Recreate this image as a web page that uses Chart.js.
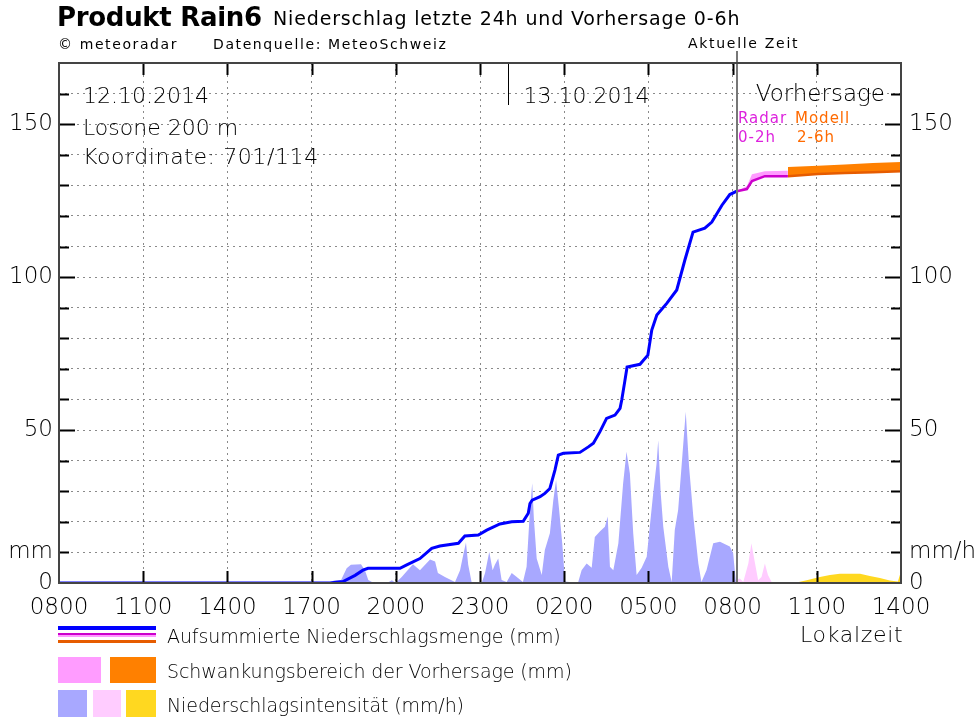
<!DOCTYPE html>
<html>
<head>
<meta charset="utf-8">
<script src="https://cdn.jsdelivr.net/npm/chart.js@4.4.1/dist/chart.umd.min.js"></script>
<style>
  body { margin: 0; background: #fff; font-family: "DejaVu Sans", sans-serif; }
  #wrap { position: relative; width: 976px; height: 718px; overflow: hidden; }
  #chart { position: absolute; left: 0; top: 0; }
  .t { position: absolute; white-space: nowrap; color: #000; }
  .sw { position: absolute; }
</style>
</head>
<body>
<div id="wrap">
  <canvas id="chart" width="976" height="718"></canvas>
  <div class="t" style="left:57px;top:2px;font-size:26px;font-weight:bold;letter-spacing:-0.3px">Produkt Rain6</div>
  <div class="t" style="left:273px;top:7px;font-size:19px;letter-spacing:0.85px">Niederschlag letzte 24h und Vorhersage 0-6h</div>
  <div class="t" style="left:58px;top:36px;font-size:14px;letter-spacing:1.6px">© meteoradar</div>
  <div class="t" style="left:213px;top:36px;font-size:14px;letter-spacing:1.6px">Datenquelle: MeteoSchweiz</div>
  <div class="t" style="left:688px;top:35px;font-size:14px;letter-spacing:1.7px">Aktuelle Zeit</div>
  <div class="t" style="left:800px;top:622px;font-size:22px;font-weight:200;letter-spacing:0.7px">Lokalzeit</div>

  <!-- legende -->
  <div class="sw" style="left:58px;top:626px;width:98px;height:4px;background:#0000ff"></div>
  <div class="sw" style="left:58px;top:633px;width:98px;height:2px;background:#cc00cc"></div>
  <div class="sw" style="left:58px;top:635px;width:98px;height:2px;background:#ff99ff"></div>
  <div class="sw" style="left:58px;top:640px;width:98px;height:3px;background:#e65c00"></div>
  <div class="t" style="left:167px;top:625px;font-size:19px;font-weight:200;letter-spacing:-0.1px">Aufsummierte Niederschlagsmenge (mm)</div>

  <div class="sw" style="left:58px;top:657px;width:43px;height:26px;background:#ff9cff"></div>
  <div class="sw" style="left:110px;top:657px;width:46px;height:26px;background:#ff8000"></div>
  <div class="t" style="left:167px;top:660px;font-size:19px;font-weight:200;letter-spacing:-0.1px">Schwankungsbereich der Vorhersage (mm)</div>

  <div class="sw" style="left:58px;top:690px;width:29px;height:27px;background:#a8a8ff"></div>
  <div class="sw" style="left:93px;top:690px;width:28px;height:27px;background:#ffccff"></div>
  <div class="sw" style="left:126px;top:690px;width:30px;height:27px;background:#ffd820"></div>
  <div class="t" style="left:167px;top:694px;font-size:19px;font-weight:200;letter-spacing:-0.1px">Niederschlagsintensität (mm/h)</div>
</div>

<script>
// Stunden ab 12.10.2014 08:00 (0 .. 30)
const xTickLabels = ['0800', '1100', '1400', '1700', '2000', '2300', '0200', '0500', '0800', '1100', '1400'];
const jetzt = 24.15;       // Aktuelle Zeit
const mitternacht = 16;    // 13.10.2014 00:00

// aufsummierte Niederschlagsmenge (mm), gemessen
const cumTime = [0, 9.65, 10.12, 10.55, 10.83, 11.01, 12.15, 12.39, 12.86, 13.28,
  13.57, 14.23, 14.46, 14.94, 15.24, 15.71, 16.13, 16.54, 16.72, 16.78,
  16.86, 17.14, 17.31, 17.49, 17.67, 17.79, 17.97, 18.56, 18.86, 19.04,
  19.27, 19.51, 19.81, 19.99, 20.05, 20.16, 20.24, 20.70, 20.98, 21.12,
  21.30, 21.66, 22.01, 22.30, 22.59, 23.01, 23.26, 23.62, 23.90, 24.15];
const cumValue = [0, 0, 0.5, 2.5, 4.2, 4.8, 4.8, 5.9, 8, 11.3,
  12.1, 13, 15.4, 15.7, 17.3, 19.3, 20, 20.2, 22.8, 26,
  27.1, 28.2, 29.3, 30.9, 36.9, 41.8, 42.4, 42.7, 44.5, 45.7,
  49.4, 53.8, 54.9, 57.1, 59.8, 66, 70.6, 71.5, 74.5, 82.7,
  87.6, 91.5, 95.8, 105.6, 114.7, 116, 118, 123.5, 127, 128.1];

// Vorhersage Radar 0-2h
const radarTime = [24.15, 24.51, 24.69, 25.15, 25.97];
const radarValue = [128.1, 128.8, 131.4, 133.0, 133.0];
const radarHigh = [128.1, 129.8, 133.6, 134.6, 134.8];

// Vorhersage Modell 2-6h
const modelTime = [25.97, 27.04, 28.0, 29.0, 30.0];
const modelValue = [133.0, 133.7, 134.0, 134.3, 134.6];
const modelHigh = [136.0, 136.4, 136.8, 137.3, 137.6];

// Niederschlagsintensität (mm/h)
const intObsTime = [9.6, 9.8, 10.05, 10.25, 10.40, 10.76, 10.90, 11.02, 11.15, 11.75,
  11.86, 11.95, 12.03, 12.21, 12.61, 12.86, 13.22, 13.40, 13.50, 13.75,
  14.11, 14.29, 14.40, 14.50, 14.58, 14.70, 15.06, 15.18, 15.33, 15.45,
  15.53, 15.65, 15.77, 15.95, 16.13, 16.31, 16.53, 16.66, 16.78, 16.86,
  16.92, 17.02, 17.20, 17.31, 17.49, 17.61, 17.71, 17.82, 17.93, 18.03,
  18.49, 18.62, 18.80, 18.98, 19.09, 19.27, 19.45, 19.55, 19.63, 19.75,
  19.93, 20.10, 20.22, 20.34, 20.46, 20.58, 20.76, 20.94, 21.17, 21.29,
  21.35, 21.44, 21.53, 21.71, 21.83, 21.94, 22.06, 22.18, 22.33, 22.45,
  22.60, 22.78, 22.89, 23.07, 23.31, 23.55, 23.90, 24.02, 24.12];
const intObsValue = [0, 0.8, 1, 4.8, 6, 6.1, 4.2, 1, 0.3, 0.3,
  0.9, 0.3, 0.3, 2, 6.1, 4.2, 7.7, 7, 3.3, 2,
  0.3, 4.2, 9.1, 13.2, 6, 0.3, 0, 3.3, 10.2, 4.2,
  6, 8, 1, 0.3, 3.3, 2, 0.3, 5.3, 23.9, 32.6,
  21, 8, 2.6, 10.8, 16.3, 27, 33.7, 23.9, 13, 0.5,
  0, 4.2, 6.4, 5, 15, 16.8, 18.4, 21.7, 5.3, 4.2,
  13, 32.6, 42.9, 35.8, 16.2, 2.6, 5, 8.6, 29.3, 39,
  46.7, 29.3, 18.4, 5.3, 0.3, 17.3, 23.9, 38, 56, 38,
  21.7, 6.4, 0.3, 4.2, 13, 13.5, 11.9, 9.7, 0];
const intRadarTime = [24.08, 24.26, 24.38, 24.56, 24.67, 24.80, 24.91, 25.03, 25.15, 25.26, 25.39, 25.51];
const intRadarValue = [0.9, 1.5, 0.3, 6.4, 13, 6.4, 0.9, 2, 6.4, 2.6, 0.3, 0];
const intModelTime = [26.28, 26.64, 27.11, 27.47, 27.82, 28.54, 28.89, 29.25, 29.60, 29.89, 29.96, 30];
const intModelValue = [0.2, 0.9, 2, 2.6, 3, 3, 2.3, 1.6, 0.8, 0.5, 2.6, 2.6];

function pts(t, v) {
  return t.map((x, i) => ({x: x, y: v[i]}));
}

const FONT = '"DejaVu Sans", sans-serif';
const tickFont = {family: FONT, size: 23, weight: '200'};

// rahmen, innere ticks, linien und beschriftung im diagramm
const rahmen = {
  id: 'rahmen',
  afterDatasetsDraw(chart) {
    const ctx = chart.ctx;
    const a = chart.chartArea;
    const xs = chart.scales.x, ys = chart.scales.y;
    ctx.save();
    // ticks innen
    ctx.strokeStyle = '#000';
    ctx.lineWidth = 2;
    for (let h = 3; h < 30; h += 3) {
      const px = Math.round(xs.getPixelForValue(h)) + 0.5;
      ctx.beginPath();
      ctx.moveTo(px, a.bottom); ctx.lineTo(px, a.bottom - 12);
      ctx.moveTo(px, a.top); ctx.lineTo(px, a.top + 12);
      ctx.stroke();
    }
    for (let v = 10; v < 170; v += 10) {
      const py = Math.round(ys.getPixelForValue(v)) + 0.5;
      const len = v % 50 === 0 ? 16 : 10;
      ctx.beginPath();
      ctx.moveTo(a.left, py); ctx.lineTo(a.left + len, py);
      ctx.moveTo(a.right, py); ctx.lineTo(a.right - len, py);
      ctx.stroke();
    }
    // mitternacht
    ctx.lineWidth = 1;
    const mx = Math.round(xs.getPixelForValue(mitternacht)) + 0.5;
    ctx.beginPath();
    ctx.moveTo(mx, a.top); ctx.lineTo(mx, a.top + 42);
    ctx.stroke();
    // aktuelle zeit
    const jx = Math.round(xs.getPixelForValue(jetzt));
    ctx.strokeStyle = '#777';
    ctx.lineWidth = 2;
    ctx.beginPath();
    ctx.moveTo(jx, a.top - 12); ctx.lineTo(jx, a.bottom);
    ctx.stroke();
    // rahmen
    ctx.strokeStyle = '#444';
    ctx.lineWidth = 2;
    ctx.strokeRect(a.left, a.top, a.right - a.left, a.bottom - a.top);

    // texte
    ctx.fillStyle = '#000';
    ctx.textBaseline = 'middle';
    ctx.font = '200 22px ' + FONT;
    ctx.textAlign = 'left';
    ctx.fillText('12.10.2014', a.left + 24, 97);
    ctx.fillText('Losone 200 m', a.left + 24, 129);
    ctx.letterSpacing = '0.6px';
    ctx.fillText('Koordinate: 701/114', a.left + 24, 158);
    ctx.letterSpacing = '0px';
    ctx.fillText('13.10.2014', mx + 15, 97);
    ctx.textAlign = 'right';
    ctx.font = '200 23px ' + FONT;
    ctx.fillText('Vorhersage', a.right - 16, 95);
    ctx.textAlign = 'left';
    ctx.font = '15px ' + FONT;
    ctx.letterSpacing = '1px';
    ctx.fillStyle = '#dd22dd';
    ctx.fillText('Radar', jx + 1, 119);
    ctx.fillText('0-2h', jx + 1, 138);
    ctx.fillStyle = '#ff6a00';
    ctx.fillText('Modell', jx + 58, 119);
    ctx.fillText('2-6h', jx + 60, 138);
    ctx.restore();
  }
};

const gridDash = {dash: [2, 4], display: false};

new Chart(document.getElementById('chart'), {
  type: 'line',
  data: {
    datasets: [
      {data: pts(cumTime, cumValue), borderColor: '#0000ff', borderWidth: 3, order: 1},
      {data: pts(radarTime, radarValue), borderColor: '#cc00cc', borderWidth: 2.5, order: 2},
      {data: pts(modelTime, modelValue), borderColor: '#e65c00', borderWidth: 2.5, order: 3},
      {data: pts(radarTime, radarHigh), borderWidth: 0, backgroundColor: '#ff9cff', fill: '+1', order: 4},
      {data: pts(radarTime, radarValue), borderWidth: 0, order: 5},
      {data: pts(modelTime, modelHigh), borderWidth: 0, backgroundColor: '#ff8000', fill: '+1', order: 6},
      {data: pts(modelTime, modelValue), borderWidth: 0, order: 7},
      {data: pts(intObsTime, intObsValue), borderWidth: 0, backgroundColor: '#a8a8ff', fill: 'origin', order: 8},
      {data: pts(intRadarTime, intRadarValue), borderWidth: 0, backgroundColor: '#ffccff', fill: 'origin', order: 9},
      {data: pts(intModelTime, intModelValue), borderWidth: 0, backgroundColor: '#ffd820', fill: 'origin', order: 10}
    ]
  },
  options: {
    responsive: false,
    animation: false,
    events: [],
    elements: {point: {radius: 0}, line: {tension: 0}},
    layout: {padding: {left: 0, right: 0, top: 63, bottom: 95}},
    plugins: {legend: {display: false}, tooltip: {enabled: false}},
    scales: {
      x: {
        type: 'linear', min: 0, max: 30,
        afterFit: s => { s.height = 40; },
        ticks: {stepSize: 3, autoSkip: false, maxRotation: 0, padding: 11, color: '#000',
          font: tickFont,
          callback: v => xTickLabels[v / 3]},
        grid: {color: '#8a8a8a', drawTicks: false, lineWidth: 1},
        border: gridDash
      },
      y: {
        position: 'left', min: 0, max: 170,
        afterFit: s => { s.width = 59; },
        ticks: {stepSize: 10, autoSkip: false, padding: 6, color: '#000',
          font: tickFont,
          callback: v => v === 10 ? 'mm' : (v % 50 === 0 && v <= 150 ? v : '')},
        grid: {color: '#8a8a8a', drawTicks: false, lineWidth: 1},
        border: gridDash
      },
      y2: {
        position: 'right', min: 0, max: 170,
        afterFit: s => { s.width = 75; },
        ticks: {stepSize: 10, autoSkip: false, padding: 8, color: '#000',
          font: tickFont,
          callback: v => v === 10 ? 'mm/h' : (v % 50 === 0 && v <= 150 ? v : '')},
        grid: {drawOnChartArea: false, drawTicks: false},
        border: {display: false}
      }
    }
  },
  plugins: [rahmen]
});
</script>
</body>
</html>
